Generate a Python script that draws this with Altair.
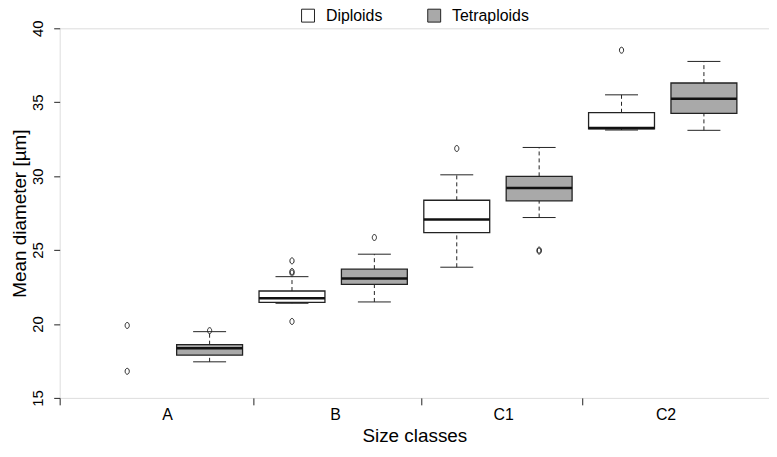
import altair as alt
import pandas as pd

# ---- data ----
ploidy = ["Diploids", "Tetraploids"] * 4
size_class = ["A", "A", "B", "B", "C1", "C1", "C2", "C2"]
lower = [None, 17.44, 21.40, 21.49, 23.84, 27.20, 33.12, 33.10]
q1 = [None, 17.89, 21.46, 22.68, 26.18, 28.33, 33.20, 34.24]
median = [None, 18.36, 21.74, 23.08, 27.07, 29.20, 33.25, 35.23]
q3 = [None, 18.60, 22.23, 23.71, 28.37, 29.99, 34.29, 36.30]
upper = [None, 19.48, 23.20, 24.72, 30.09, 31.94, 35.50, 37.76]

out_box = [1, 1, 2, 3, 3, 3, 3, 4, 5, 6, 6, 7]
out_val = [19.9, 16.8, 19.55, 24.27, 23.55, 23.45, 20.17, 25.85, 31.87, 24.93, 25.0, 38.52]

group_labels = ["A", "B", "C1", "C2"]
label_pos = [1.49, 3.53, 5.57, 7.54]
tick_pos = [0.18, 2.53, 4.57, 6.52]
y_ticks = [15, 20, 25, 30, 35, 40]

FONT = "Liberation Sans"
INK = "#222222"

pos = list(range(1, 9))
boxes = pd.DataFrame(dict(pos=pos, ploidy=ploidy, size_class=size_class, lower=lower,
                          q1=q1, median=median, q3=q3, upper=upper)).dropna()
boxes["left"] = boxes["pos"] - 0.4
boxes["right"] = boxes["pos"] + 0.4
boxes["capl"] = boxes["pos"] - 0.2
boxes["capr"] = boxes["pos"] + 0.2

outl = pd.DataFrame(dict(pos=out_box, value=out_val))
labs = pd.DataFrame(dict(pos=label_pos, label=group_labels))

xs = alt.Scale(domain=[0.18, 8.79], nice=False, zero=False)
ys = alt.Scale(domain=[15, 40], nice=False, zero=False)

xaxis = alt.Axis(values=tick_pos, labels=False, tickSize=7, tickColor=INK, domain=False,
                 grid=False, title="Size classes", titleFontSize=19, titleFont=FONT,
                 titleFontWeight="normal", titleColor="black", titleY=38,
                 titleBaseline="middle")
yaxis = alt.Axis(values=y_ticks, tickSize=6, tickColor=INK, labelAngle=270,
                 labelAlign="center", labelBaseline="bottom", labelPadding=8,
                 labelFontSize=15, labelFont=FONT, labelColor="black", labelFlush=False,
                 domain=False, grid=False, title="Mean diameter [µm]", titleFontSize=19,
                 titleFont=FONT, titleFontWeight="normal", titleColor="black",
                 titleAngle=270, titleX=-30, titleY=186, titleAlign="center",
                 titleBaseline="bottom")

base = alt.Chart(boxes)

whisk_up = base.mark_rule(strokeDash=[4, 3], color=INK, strokeWidth=1).encode(
    x=alt.X("pos:Q", scale=xs, axis=xaxis), y=alt.Y("q3:Q", scale=ys, axis=yaxis), y2="upper:Q")
whisk_lo = base.mark_rule(strokeDash=[4, 3], color=INK, strokeWidth=1).encode(
    x=alt.X("pos:Q", scale=xs, axis=xaxis), y=alt.Y("lower:Q", scale=ys, axis=yaxis), y2="q1:Q")
cap_up = base.mark_rule(color=INK, strokeWidth=1).encode(
    x=alt.X("capl:Q", scale=xs, axis=xaxis), x2="capr:Q", y=alt.Y("upper:Q", scale=ys, axis=yaxis))
cap_lo = base.mark_rule(color=INK, strokeWidth=1).encode(
    x=alt.X("capl:Q", scale=xs, axis=xaxis), x2="capr:Q", y=alt.Y("lower:Q", scale=ys, axis=yaxis))

box = base.mark_rect(stroke=INK, strokeWidth=1.3).encode(
    x=alt.X("left:Q", scale=xs, axis=xaxis), x2="right:Q",
    y=alt.Y("q1:Q", scale=ys, axis=yaxis), y2="q3:Q",
    fill=alt.Fill("ploidy:N",
                  scale=alt.Scale(domain=["Diploids", "Tetraploids"], range=["#ffffff", "#a9a9a9"]),
                  legend=alt.Legend(orient="none", legendX=242, legendY=-21, direction="horizontal",
                                    title=None, symbolType="square", symbolSize=169,
                                    symbolStrokeColor=INK, symbolStrokeWidth=1,
                                    labelFontSize=16, labelFont=FONT, labelColor="black",
                                    labelOffset=10, columnPadding=43, padding=0)))

med = base.mark_rule(color="#111111", strokeWidth=2.5).encode(
    x=alt.X("left:Q", scale=xs, axis=xaxis), x2="right:Q", y=alt.Y("median:Q", scale=ys, axis=yaxis))

ellipse = "M0,-1 A0.7,1 0 1,1 0,1 A0.7,1 0 1,1 0,-1 Z"
pts = alt.Chart(outl).mark_point(shape=ellipse, size=36, filled=False, stroke=INK, strokeWidth=1,
                                 opacity=1).encode(
    x=alt.X("pos:Q", scale=xs, axis=xaxis), y=alt.Y("value:Q", scale=ys, axis=yaxis))

txt = alt.Chart(labs).mark_text(fontSize=16, font=FONT, color="black", align="center",
                                baseline="middle").encode(
    x=alt.X("pos:Q", scale=xs, axis=xaxis), y=alt.value(389), text="label:N")

chart = alt.layer(whisk_up, whisk_lo, cap_up, cap_lo, box, med, pts, txt).properties(
    width=714, height=372,
    autosize=alt.AutoSizeParams(type="none"),
    padding={"left": 52, "top": 19, "right": 0, "bottom": 50},
).configure_view(stroke=INK, strokeWidth=1).configure(font=FONT)

chart.save("out.html", embed_options={"renderer": "svg", "actions": False})
